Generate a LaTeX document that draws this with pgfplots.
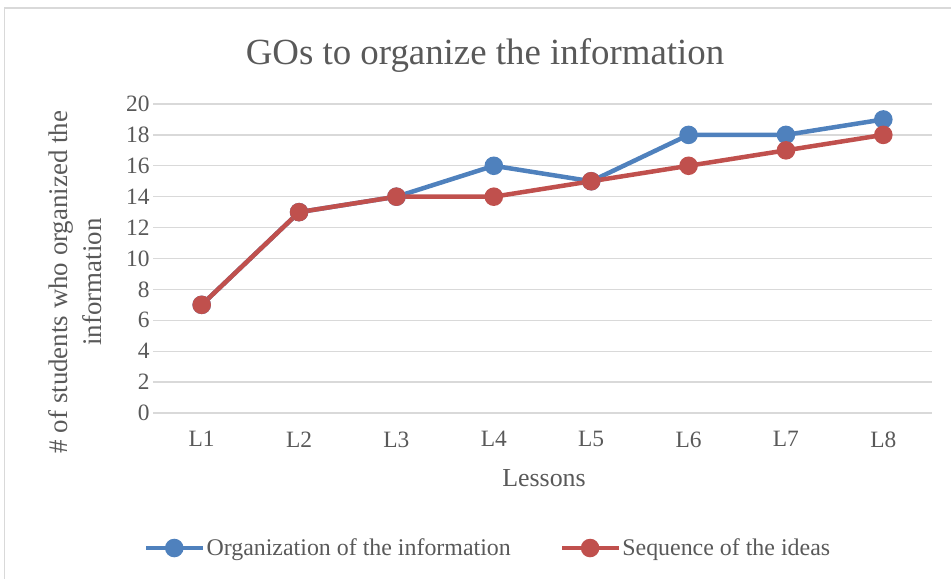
\documentclass[border=0pt]{standalone}
\usepackage{pgfplots}
\pgfplotsset{compat=1.18}
\usepackage{fontspec}
\setmainfont{Liberation Serif}
\definecolor{txt}{HTML}{595959}
\definecolor{gridc}{HTML}{D9D9D9}
\definecolor{sblue}{HTML}{4F81BD}
\definecolor{sred}{HTML}{C0504D}
\begin{document}
\begin{tikzpicture}[x=1bp,y=1bp]
\useasboundingbox (0,0) rectangle (951,579);
\draw[gridc, line width=1.5bp] (4.5,-10) -- (4.5,571) -- (960,571);
\node[anchor=base, text=txt, font=\fontsize{37}{40}\selectfont, inner sep=0] at (485,514) {GOs to organize the information};
\node[rotate=90, align=center, text=txt, font=\fontsize{27}{34}\selectfont, inner sep=0] at (75,297) {\# of students who organized the\\information};
\node[text=txt, font=\fontsize{26}{30}\selectfont, inner sep=0] at (544,101) {Lessons};
\begin{axis}[
  at={(153bp,166bp)}, anchor=south west,
  scale only axis, width=779bp, height=309bp,
  xmin=-0.5, xmax=7.5, ymin=0, ymax=20,
  xtick={0,...,7}, xticklabels={L1,L2,L3,L4,L5,L6,L7,L8},
  ytick={0,2,...,20},
  axis line style={draw=none},
  ymajorgrids, grid style={gridc, line width=1.3bp},
  major tick length=0,
  tick label style={text=txt, font=\fontsize{23.5}{28}\selectfont},
  /pgf/number format/assume math mode=true,
  x tick label style={yshift=-15bp},
  legend columns=2,
  legend style={draw=none, fill=none, at={(0.4295,-0.437)}, anchor=center,
    font=\fontsize{24}{28}\selectfont, text=txt,
    /tikz/every even column/.append style={column sep=48bp},
    nodes={inner sep=1bp}},
  legend image code/.code={\draw[mark repeat=2,mark phase=2,#1] plot coordinates {(0bp,0bp) (28bp,0bp) (57bp,0bp)};},
]
\draw[gridc, line width=1.3bp] (axis cs:-0.5,0) -- (axis cs:7.5,0);
\addplot[sblue, line width=4.5bp, mark=*, mark size=7bp, mark options={solid}] coordinates {
(0,7) (1,13) (2,14) (3,16) (4,15) (5,18) (6,18) (7,19)};
\addlegendentry{Organization of the information}
\addplot[sred, line width=4.5bp, mark=*, mark size=7bp, mark options={solid}] coordinates {
(0,7) (1,13) (2,14) (3,14) (4,15) (5,16) (6,17) (7,18)};
\addlegendentry{Sequence of the ideas}
\end{axis}
\end{tikzpicture}
\end{document}
